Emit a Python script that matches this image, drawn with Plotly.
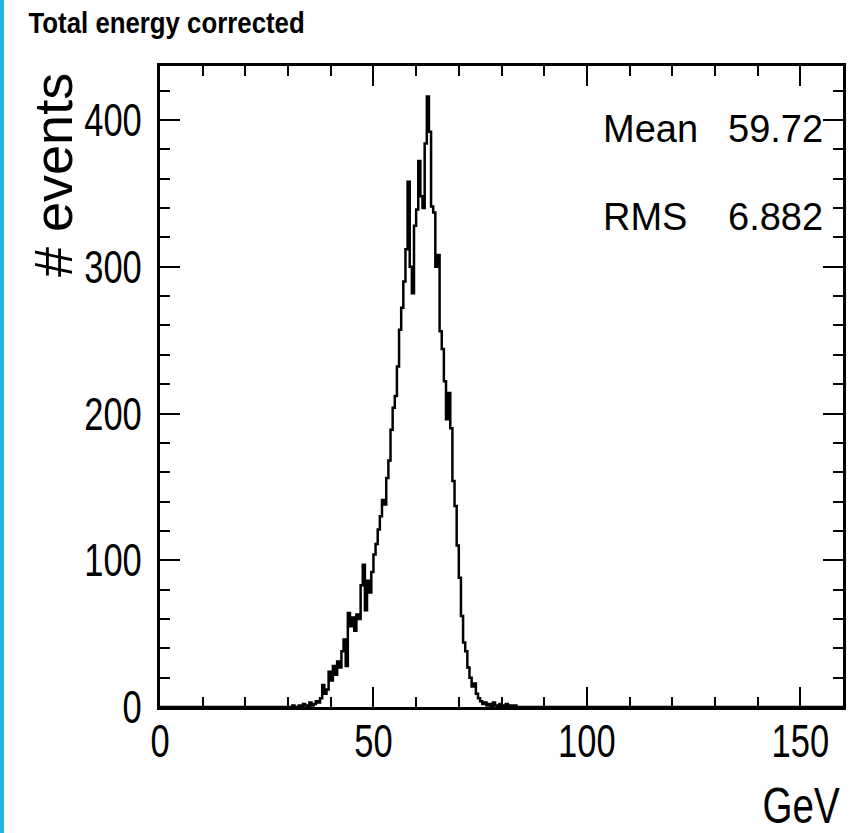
import plotly.graph_objects as go

# Histogram binning (GeV)
x_min, x_max = 0.0, 160.0
bin_width = 0.5

# Bin counts for the populated range, starting at the bin edge below
first_edge = 30.0
counts = [
    0, 0, 1, 0, 0, 1, 0, 2, 1, 0,            # 30.0 - 34.5
    3, 1, 2, 4, 3, 6, 15, 9, 12, 24,         # 35.0 - 39.5
    18, 28, 22, 31, 27, 38, 46, 28, 64, 55,  # 40.0 - 44.5
    61, 52, 63, 60, 83, 97, 66, 86, 78, 92,  # 45.0 - 49.5
    104, 111, 121, 130, 141, 138, 156, 168, 189, 204,  # 50.0 - 54.5
    212, 232, 257, 272, 290, 312, 358, 300, 282, 328,  # 55.0 - 59.5
    339, 372, 348, 340, 384, 416, 392, 341, 337, 300,  # 60.0 - 64.5
    308, 256, 244, 222, 196, 214, 190, 154, 137, 110,  # 65.0 - 69.5
    88, 62, 44, 38, 27, 20, 14, 16, 9, 6,    # 70.0 - 74.5
    4, 2, 3, 1, 2, 0, 3, 1, 0, 2,            # 75.0 - 79.5
    1, 0, 2, 0, 1, 0, 1,                     # 80.0 - 83.0
]

title_text = "Total energy corrected"
x_title = "GeV"
y_title = "# events"
stats_labels = ["Mean", "RMS"]
stats_values = ["59.72", "6.882"]

# Full set of bins over the axis range
n_bins = int(round((x_max - x_min) / bin_width))
full = [0] * n_bins
start = int(round((first_edge - x_min) / bin_width))
for i, c in enumerate(counts):
    full[start + i] = c
edges = [x_min + i * bin_width for i in range(n_bins + 1)]

y_top = 1.05 * max(full)

fig = go.Figure()
fig.add_trace(go.Scatter(
    x=edges,
    y=full + [full[-1]],
    mode="lines",
    line=dict(color="black", width=2.5, shape="hv"),
    hoverinfo="skip",
    showlegend=False,
))

FONT = "Liberation Sans, Arial, sans-serif"
tick_font = dict(family=FONT, size=46, color="black")
axis_common = dict(
    showgrid=False,
    zeroline=False,
    showline=True,
    linecolor="black",
    linewidth=3,
    mirror="allticks",
    ticks="inside",
    ticklen=20,
    tickwidth=2,
    tickcolor="black",
    tickfont=tick_font,
)

fig.update_layout(
    width=859,
    height=833,
    margin=dict(l=160, r=16, t=66, b=126),
    paper_bgcolor="white",
    plot_bgcolor="white",
    xaxis=dict(
        range=[x_min, x_max],
        tickvals=[0, 50, 100, 150],
        ticktext=["0", "50", "100", "150"],
        minor=dict(dtick=10, tick0=0, ticks="inside", ticklen=10, tickwidth=2, tickcolor="black"),
        ticklabelstandoff=-8,
        **axis_common,
    ),
    yaxis=dict(
        range=[0, y_top],
        tickvals=[0, 100, 200, 300, 400],
        ticktext=["0", "100", "200", "300", "400"],
        minor=dict(dtick=20, tick0=0, ticks="inside", ticklen=10, tickwidth=2, tickcolor="black"),
        ticklabelstandoff=6,
        **axis_common,
    ),
)

plot_w = 859 - 160 - 16
plot_h = 833 - 66 - 126


def px_x(px):
    return (px - 160) / plot_w


def px_y(py):
    return (707 - py) / plot_h


annotations = [
    dict(text=f"<b>{title_text}</b>", x=px_x(166), y=px_y(23), xanchor="center", yanchor="middle",
         font=dict(family=FONT, size=30, color="black")),
    dict(text=x_title, x=px_x(801), y=px_y(806), xanchor="center", yanchor="middle",
         font=dict(family=FONT, size=50, color="black")),
    dict(text=y_title, x=px_x(53), y=px_y(175), xanchor="center", yanchor="middle", textangle=-90,
         font=dict(family=FONT, size=54, color="black")),
]
for i, (lab, val) in enumerate(zip(stats_labels, stats_values)):
    yc = [129, 217][i]
    annotations.append(dict(text=lab, x=px_x(601), y=px_y(yc), xanchor="left", yanchor="middle",
                            font=dict(family=FONT, size=38, color="black")))
    annotations.append(dict(text=val, x=px_x(825), y=px_y(yc), xanchor="right", yanchor="middle",
                            font=dict(family=FONT, size=38, color="black")))
for a in annotations:
    a.update(xref="paper", yref="paper", showarrow=False)
fig.update_layout(annotations=annotations)

# Blue strip along the left edge of the page
fig.add_shape(type="rect", xref="paper", yref="paper",
              x0=px_x(0), x1=px_x(4), y0=px_y(833), y1=px_y(0),
              line=dict(width=0), fillcolor="#25B4E0", layer="above")

# Narrow (condensed) lettering for tick labels, title and axis unit:
# squeeze the rendered glyphs horizontally about an anchor point.
condense_js = """
var gd = document.getElementById('{plot_id}');
function squeeze(el, k, mode) {
  var bb = el.getBBox();
  var ax = (mode === 'right') ? bb.x + bb.width : bb.x + bb.width / 2;
  var t = el.getAttribute('transform') || '';
  el.setAttribute('transform', t + ' translate(' + ax + ',0) scale(' + k + ',1) translate(' + (-ax) + ',0)');
}
gd.querySelectorAll('.xtick text').forEach(function (el) { squeeze(el, 0.75, 'center'); });
gd.querySelectorAll('.ytick text').forEach(function (el) { squeeze(el, 0.75, 'right'); });
gd.querySelectorAll('.annotation-text').forEach(function (el) {
  var s = el.textContent;
  if (s === 'Total energy corrected') { squeeze(el, 0.86, 'center'); }
  if (s === 'GeV') { squeeze(el, 0.77, 'center'); }
});
"""

fig.write_html("out.html", post_script=condense_js)
